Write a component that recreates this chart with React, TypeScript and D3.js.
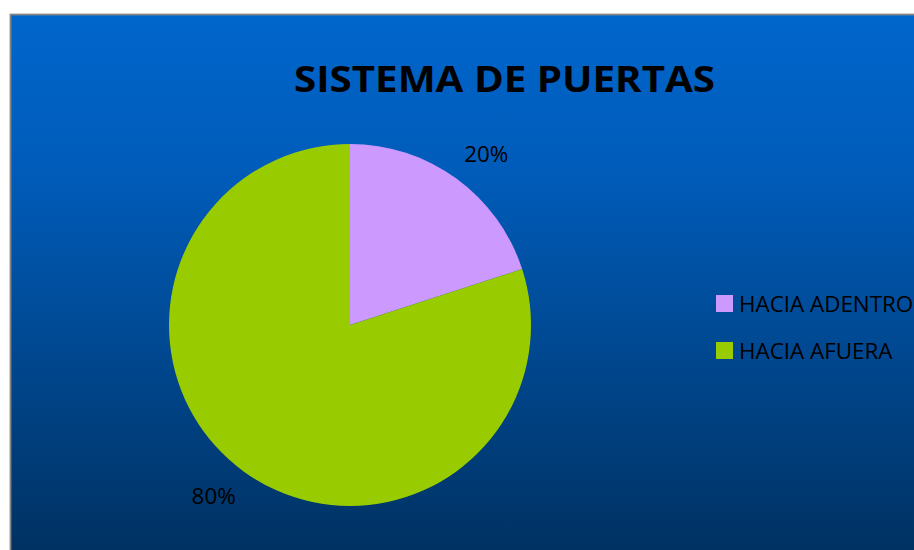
import React from "react";
import * as d3 from "d3";

const categories = ["HACIA ADENTRO", "HACIA AFUERA"];
const values = [20, 80];
const labels = ["20%", "80%"];
const colors = ["#CC99FF", "#99CC00"];
const title = "SISTEMA DE PUERTAS";

const W = 914;
const H = 550;

export default function App() {
  const cx = 350;
  const cy = 325;
  const r = 181;
  const pie = d3.pie<number>().sort(null).value((d) => d);
  const arcs = pie(values);
  const arc = d3.arc<d3.PieArcDatum<number>>().innerRadius(0).outerRadius(r);
  const labelArc = d3.arc<d3.PieArcDatum<number>>().innerRadius(219).outerRadius(219);
  const shift = (2.5 * Math.PI) / 180;
  const font = "'Open Sans', 'Liberation Sans', sans-serif";

  return (
    <svg
      width={W}
      height={H}
      style={{ position: "absolute", left: 0, top: 0, display: "block" }}
    >
      <defs>
        <linearGradient id="bg" x1="0" y1="0" x2="0" y2="1">
          <stop offset="0" stopColor="#0066CC" />
          <stop offset="0.3" stopColor="#005BB8" />
          <stop offset="1" stopColor="#00305F" />
        </linearGradient>
      </defs>
      <rect x={0} y={0} width={W} height={H} fill="#ffffff" />
      <rect x={10.5} y={14.5} width={W} height={H} fill="url(#bg)" stroke="#858585" strokeWidth={1.8} />
      <text
        x={504.5}
        y={92}
        textAnchor="middle"
        fontFamily={font}
        fontWeight="bold"
        fontSize={36}
        fill="#000"
        textLength={421}
        lengthAdjust="spacingAndGlyphs"
      >
        {title}
      </text>
      <g transform={`translate(${cx},${cy})`}>
        {arcs.map((a, i) => (
          <path key={i} d={arc(a) || ""} fill={colors[i]} />
        ))}
        {arcs.map((a, i) => {
          const [lx, ly] = labelArc.centroid({
            ...a,
            startAngle: a.startAngle + shift,
            endAngle: a.endAngle + shift,
          });
          return (
            <text
              key={"l" + i}
              x={lx}
              y={ly}
              dy="0.36em"
              textAnchor="middle"
              fontFamily={font}
              fontSize={22.4}
              fill="#000"
            >
              {labels[i]}
            </text>
          );
        })}
      </g>
      <g>
        {categories.map((c, i) => (
          <g key={c} transform={`translate(716,${295 + i * 47})`}>
            <rect x={0} y={0} width={17} height={17} fill={colors[i]} />
            <text x={23} y={16.7} fontFamily={font} fontSize={22.4} fill="#000">
              {c}
            </text>
          </g>
        ))}
      </g>
    </svg>
  );
}
